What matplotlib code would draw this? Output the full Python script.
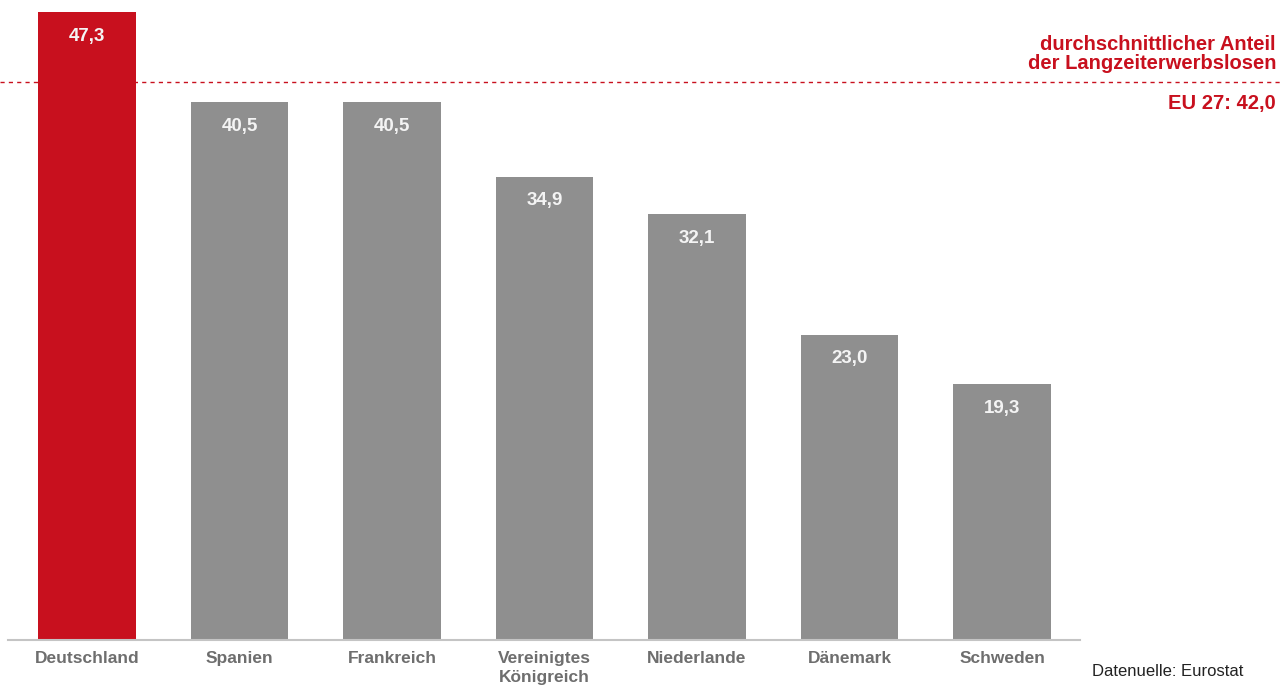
import matplotlib
matplotlib.use("Agg")
import matplotlib.pyplot as plt
import numpy as np

plt.rcParams['font.family'] = ['Liberation Sans', 'DejaVu Sans']

# Data
countries = ["Deutschland", "Spanien", "Frankreich", "Vereinigtes\nKönigreich",
             "Niederlande", "Dänemark", "Schweden"]
shares = [47.3, 40.5, 40.5, 34.9, 32.1, 23.0, 19.3]
eu_average = 42.0
value_labels = ["47,3", "40,5", "40,5", "34,9", "32,1", "23,0", "19,3"]

red = "#c8101e"
grey = "#8f8f8f"

fig = plt.figure(figsize=(12.8, 6.88), dpi=100)
ax = fig.add_axes([0, 1 - 640 / 688, 1, 640 / 688])

x = np.arange(len(countries))
colors = [red] + [grey] * (len(countries) - 1)
bars = ax.bar(x, shares, width=0.64, color=colors, zorder=2)

# Value labels inside the bars
for bar, lab in zip(bars, value_labels):
    ax.annotate(lab, (bar.get_x() + bar.get_width() / 2, bar.get_height()),
                xytext=(0, -17.5), textcoords="offset points",
                ha="center", va="center", color="#f4f4f4",
                fontsize=13.5, fontweight="bold")

# Scale: one category = 152.5 px, first bar centre at 87 px
ax.set_xlim(-87 / 152.5, 6 + (1280 - 1002) / 152.5)
ax.set_ylim(0, 640 / (628 / 47.3))

# Average line
ax.axhline(eu_average, color=red, linestyle=(0, (3, 3)), linewidth=1.0, zorder=1)

# Baseline
ax.axhline(0, xmin=8 / 1280, xmax=1080 / 1280, color="#c4c4c4", linewidth=1.5,
           zorder=3, clip_on=False)

for spine in ax.spines.values():
    spine.set_visible(False)
ax.set_yticks([])
ax.set_xticks(x)
ax.set_xticklabels(countries, fontsize=12.5, color="#6e6e6e", fontweight="bold",
                   linespacing=1.3)
ax.tick_params(axis="x", length=0, pad=8)

# Annotation text (right side)
fig.text(1276 / 1280, 1 - 73 / 688, "durchschnittlicher Anteil\nder Langzeiterwerbslosen",
         ha="right", va="bottom", color=red, fontsize=14.5, fontweight="bold",
         linespacing=1.0)
fig.text(1276 / 1280, 1 - 104 / 688, "EU 27: 42,0", ha="right", va="center",
         color=red, fontsize=14.5, fontweight="bold")

fig.text(1092 / 1280, 1 - 672 / 688, "Datenuelle: Eurostat", ha="left",
         va="center", color="#222222", fontsize=12)

fig.savefig("out.png", dpi=100, facecolor="white")
